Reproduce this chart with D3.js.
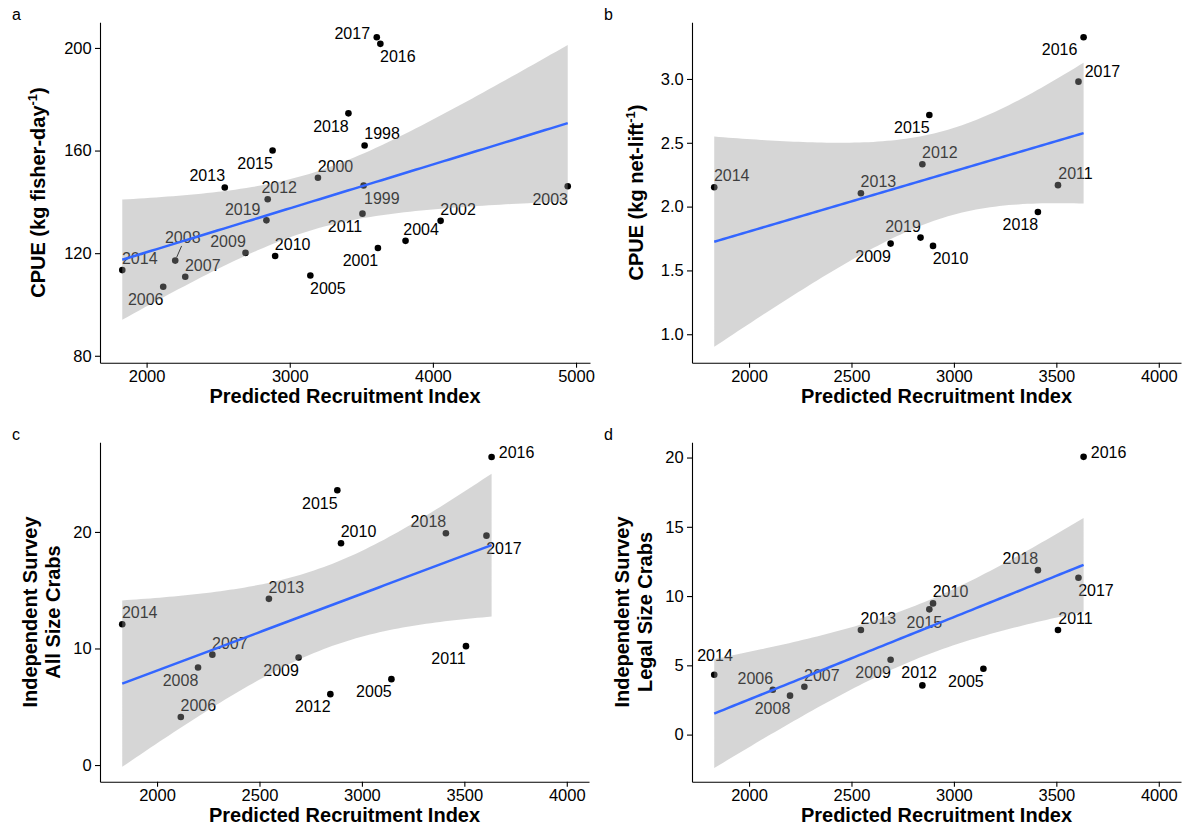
<!DOCTYPE html>
<html>
<head>
<meta charset="utf-8">
<script src="https://cdn.jsdelivr.net/npm/d3@7"></script>
<style>
  body { margin: 0; background: #fff; }
  svg { display: block; font-family: "Liberation Sans", Arial, Helvetica, sans-serif; }
</style>
</head>
<body>
<div id="chart"></div>
<script>
const svgWidth = 1189
const svgHeight = 830

// Data, one entry per year (null where a series has no value)
const years = [1998, 1999, 2000, 2001, 2002, 2003, 2004, 2005, 2006, 2007, 2008,
  2009, 2010, 2011, 2012, 2013, 2014, 2015, 2016, 2017, 2018, 2019]
const recruitIndex = [3523, 3516, 3197, 3616, 4054, 4942, 3809, 3144, 2116, 2270, 2200,
  2691, 2898, 3508, 2846, 2546, 1830, 2880, 3633, 3608, 3410, 2837]
const cpueFisher = [162.0, 146.4, 149.4, 122.0, 132.6, 146.1, 124.8, 111.3, 106.9, 110.8, 117.1,
  120.1, 118.9, 135.4, 141.0, 145.6, 113.4, 160.0, 201.6, 204.2, 174.5, 132.8]
const cpueNetLift = [null, null, null, null, null, null, null, null, null, null, null,
  1.710, 1.692, 2.168, 2.332, 2.105, 2.152, 2.718, 3.327, 2.979, 1.958, 1.757]
const surveyAll = [null, null, null, null, null, null, null, 7.37, 4.12, 9.47, 8.37,
  9.23, 19.03, 10.2, 6.08, 14.26, 12.08, 23.57, 26.43, 19.68, 19.89, null]
const surveyLegal = [null, null, null, null, null, null, null, 4.75, 3.24, 3.45, 2.81,
  5.4, 9.47, 7.55, 3.55, 7.55, 4.32, 9.04, 20.05, 11.32, 11.87, null]

// Tick values
const xTicksA = [2000, 3000, 4000, 5000]
const xTicksB = [2000, 2500, 3000, 3500, 4000]
const yTicksA = [80, 120, 160, 200]
const yTicksB = [1.0, 1.5, 2.0, 2.5, 3.0]
const yTicksC = [0, 10, 20]
const yTicksD = [0, 5, 10, 15, 20]

// Label offsets (text centre / baseline relative to point)
const NE = [17.5, -6], NW = [-17.5, -6], SE = [17.5, 18.3], SW = [-17.5, 18.3]
const E = [25, 1.5], W = [-24.5, 2]

const labelsA = {
  1998: NE, 1999: [18.2, 18.7], 2000: NE, 2001: SW, 2002: NE, 2003: SW, 2004: [15.5, -5.7],
  2005: SE, 2006: SW, 2007: NE, 2008: [7.5, -17.3, true], 2009: NW, 2010: NE, 2011: SW,
  2012: [11.5, -6.6], 2013: NW, 2014: NE, 2015: SW, 2016: SE, 2017: W, 2018: SW, 2019: [-23.7, -5.3]
}
const labelsB = {
  2009: SW, 2010: SE, 2011: NE, 2012: NE, 2013: NE, 2014: NE, 2015: SW,
  2016: [-24, 17.7], 2017: [24, -4.4], 2018: SW, 2019: NW
}
const labelsC = {
  2005: SW, 2006: NE, 2007: NE, 2008: SW, 2009: SW, 2010: NE, 2011: SW, 2012: SW,
  2013: NE, 2014: NE, 2015: SW, 2016: E, 2017: SE, 2018: NW
}
const labelsD = {
  2005: SW, 2006: NW, 2007: NE, 2008: SW, 2009: SW, 2010: NE, 2011: NE, 2012: [-3.2, -7],
  2013: NE, 2014: [0.8, -14], 2015: [-5, 18.4], 2016: E, 2017: SE, 2018: NW
}

const xTitle = "Predicted Recruitment Index"

let panels = [
  { tag: "a", left: 100, right: 590, top: 22.3, bottom: 362.7,
    xDomain: [1674.4, 5097.6], yDomain: [77.3, 210.0], xTicks: xTicksA, yTicks: yTicksA,
    yFormat: d3.format("d"), values: cpueFisher, labels: labelsA,
    yTitle: [["CPUE (kg fisher-day", "-1", ")"]], titleX: [45] },
  { tag: "b", left: 692, right: 1181, top: 22.3, bottom: 362.7,
    xDomain: [1721.5, 4108.5], yDomain: [0.777, 3.444], xTicks: xTicksB, yTicks: yTicksB,
    yFormat: d3.format(".1f"), values: cpueNetLift, labels: labelsB,
    yTitle: [["CPUE (kg net-lift", "-1", ")"]], titleX: [643] },
  { tag: "c", left: 100, right: 589, top: 442.3, bottom: 781.7,
    xDomain: [1721.5, 4108.5], yDomain: [-1.43, 27.69], xTicks: xTicksB, yTicks: yTicksC,
    yFormat: d3.format("d"), values: surveyAll, labels: labelsC,
    yTitle: [["Independent Survey"], ["All Size Crabs"]], titleX: [37, 59.5] },
  { tag: "d", left: 692, right: 1181, top: 442.3, bottom: 781.7,
    xDomain: [1721.5, 4108.5], yDomain: [-3.40, 21.1], xTicks: xTicksB, yTicks: yTicksD,
    yFormat: d3.format("d"), values: surveyLegal, labels: labelsD,
    yTitle: [["Independent Survey"], ["Legal Size Crabs"]], titleX: [629, 651.5] }
]

let svg = d3
  .select("#chart")
  .append("svg")
  .attr("width", svgWidth)
  .attr("height", svgHeight)

svg.append("rect").attr("width", svgWidth).attr("height", svgHeight).attr("fill", "#fff")

/**
 * Two-sided 95% t quantile (Cornish-Fisher expansion).
 **/
function qt975(df) {
  const z = 1.959964
  const g1 = (z ** 3 + z) / 4
  const g2 = (5 * z ** 5 + 16 * z ** 3 + 3 * z) / 96
  const g3 = (3 * z ** 7 + 19 * z ** 5 + 17 * z ** 3 - 15 * z) / 384
  const g4 = (79 * z ** 9 + 776 * z ** 7 + 1482 * z ** 5 - 1920 * z ** 3 - 945 * z) / 92160
  return z + g1 / df + g2 / df ** 2 + g3 / df ** 3 + g4 / df ** 4
}

/**
 * Least squares fit with 95% confidence band, like geom_smooth(method = "lm").
 **/
function linearFit(pts) {
  let n = pts.length
  let mx = d3.mean(pts, d => d.x)
  let my = d3.mean(pts, d => d.y)
  let sxx = d3.sum(pts, d => (d.x - mx) ** 2)
  let sxy = d3.sum(pts, d => (d.x - mx) * (d.y - my))
  let slope = sxy / sxx
  let icpt = my - slope * mx
  let s = Math.sqrt(d3.sum(pts, d => (d.y - icpt - slope * d.x) ** 2) / (n - 2))
  let t = qt975(n - 2)
  let [x0, x1] = d3.extent(pts, d => d.x)
  return d3.range(80).map(i => {
    let x = x0 + (x1 - x0) * i / 79
    let fit = icpt + slope * x
    let se = s * Math.sqrt(1 / n + (x - mx) ** 2 / sxx)
    return { x, fit, lo: fit - t * se, hi: fit + t * se }
  })
}

function drawPanel(p) {
  let pts = years
    .map((yr, i) => ({ year: yr, x: recruitIndex[i], y: p.values[i] }))
    .filter(d => d.y !== null)

  let x = d3.scaleLinear().domain(p.xDomain).range([p.left, p.right])
  let y = d3.scaleLinear().domain(p.yDomain).range([p.bottom, p.top])

  let g = svg.append("g")

  // points
  g.selectAll("circle")
    .data(pts)
    .enter()
    .append("circle")
    .attr("cx", d => x(d.x))
    .attr("cy", d => y(d.y))
    .attr("r", 3.3)
    .attr("fill", "#000")

  // repel-style labels
  pts.forEach(d => {
    let off = p.labels[d.year]
    let px = x(d.x), py = y(d.y)
    if (off[2]) {
      let len = Math.hypot(off[0], off[1])
      let ux = off[0] / len, uy = off[1] / len
      g.append("line")
        .attr("x1", px + ux * 3.5).attr("y1", py + uy * 3.5)
        .attr("x2", px + ux * 16).attr("y2", py + uy * 16)
        .attr("stroke", "#000")
        .attr("stroke-width", 1)
    }
    g.append("text")
      .attr("x", px + off[0])
      .attr("y", py + off[1])
      .attr("text-anchor", "middle")
      .attr("font-size", 16)
      .attr("fill", "#000")
      .text(d.year)
  })

  // smoother: ribbon over points, then line
  let band = linearFit(pts)
  g.append("path")
    .datum(band)
    .attr("d", d3.area().x(d => x(d.x)).y0(d => y(d.lo)).y1(d => y(d.hi)))
    .attr("fill", "#999999")
    .attr("fill-opacity", 0.4)
  g.append("path")
    .datum(band)
    .attr("d", d3.line().x(d => x(d.x)).y(d => y(d.fit)))
    .attr("fill", "none")
    .attr("stroke", "#3366FF")
    .attr("stroke-width", 2.5)

  // axes
  let xAxis = g.append("g")
    .attr("transform", `translate(0, ${p.bottom})`)
    .call(d3.axisBottom(x).tickValues(p.xTicks).tickFormat(d3.format("d"))
      .tickSize(5).tickSizeOuter(0).tickPadding(2.8))
  let yAxis = g.append("g")
    .attr("transform", `translate(${p.left}, 0)`)
    .call(d3.axisLeft(y).tickValues(p.yTicks).tickFormat(p.yFormat)
      .tickSize(5).tickSizeOuter(0).tickPadding(3.3))

  ;[xAxis, yAxis].forEach(ax => {
    ax.attr("font-family", null).attr("font-size", null)
    ax.select(".domain").attr("stroke", "#000").attr("stroke-width", 1.1)
    ax.selectAll(".tick line").attr("stroke", "#000").attr("stroke-width", 1.1)
    ax.selectAll(".tick text").attr("fill", "#000").attr("font-size", 16.5)
  })

  // axis titles
  g.append("text")
    .attr("x", (p.left + p.right) / 2)
    .attr("y", p.bottom + 40)
    .attr("text-anchor", "middle")
    .attr("font-size", 20)
    .attr("font-weight", "bold")
    .text(xTitle)

  let midY = (p.top + p.bottom) / 2
  p.yTitle.forEach((line, i) => {
    let tx = p.titleX[i]
    let t = g.append("text")
      .attr("transform", `translate(${tx}, ${midY}) rotate(-90)`)
      .attr("text-anchor", "middle")
      .attr("font-size", 20)
      .attr("font-weight", "bold")
    t.append("tspan").text(line[0])
    if (line[1]) {
      t.append("tspan").attr("dy", -8).attr("font-size", 13).text(line[1])
      t.append("tspan").attr("dy", 8).text(line[2])
    }
  })

  // panel tag
  svg.append("text")
    .attr("x", p.left - 88)
    .attr("y", p.top - 2.3)
    .attr("font-size", 16)
    .attr("fill", "#000")
    .text(p.tag)
}

panels.forEach(drawPanel)
</script>
</body>
</html>
